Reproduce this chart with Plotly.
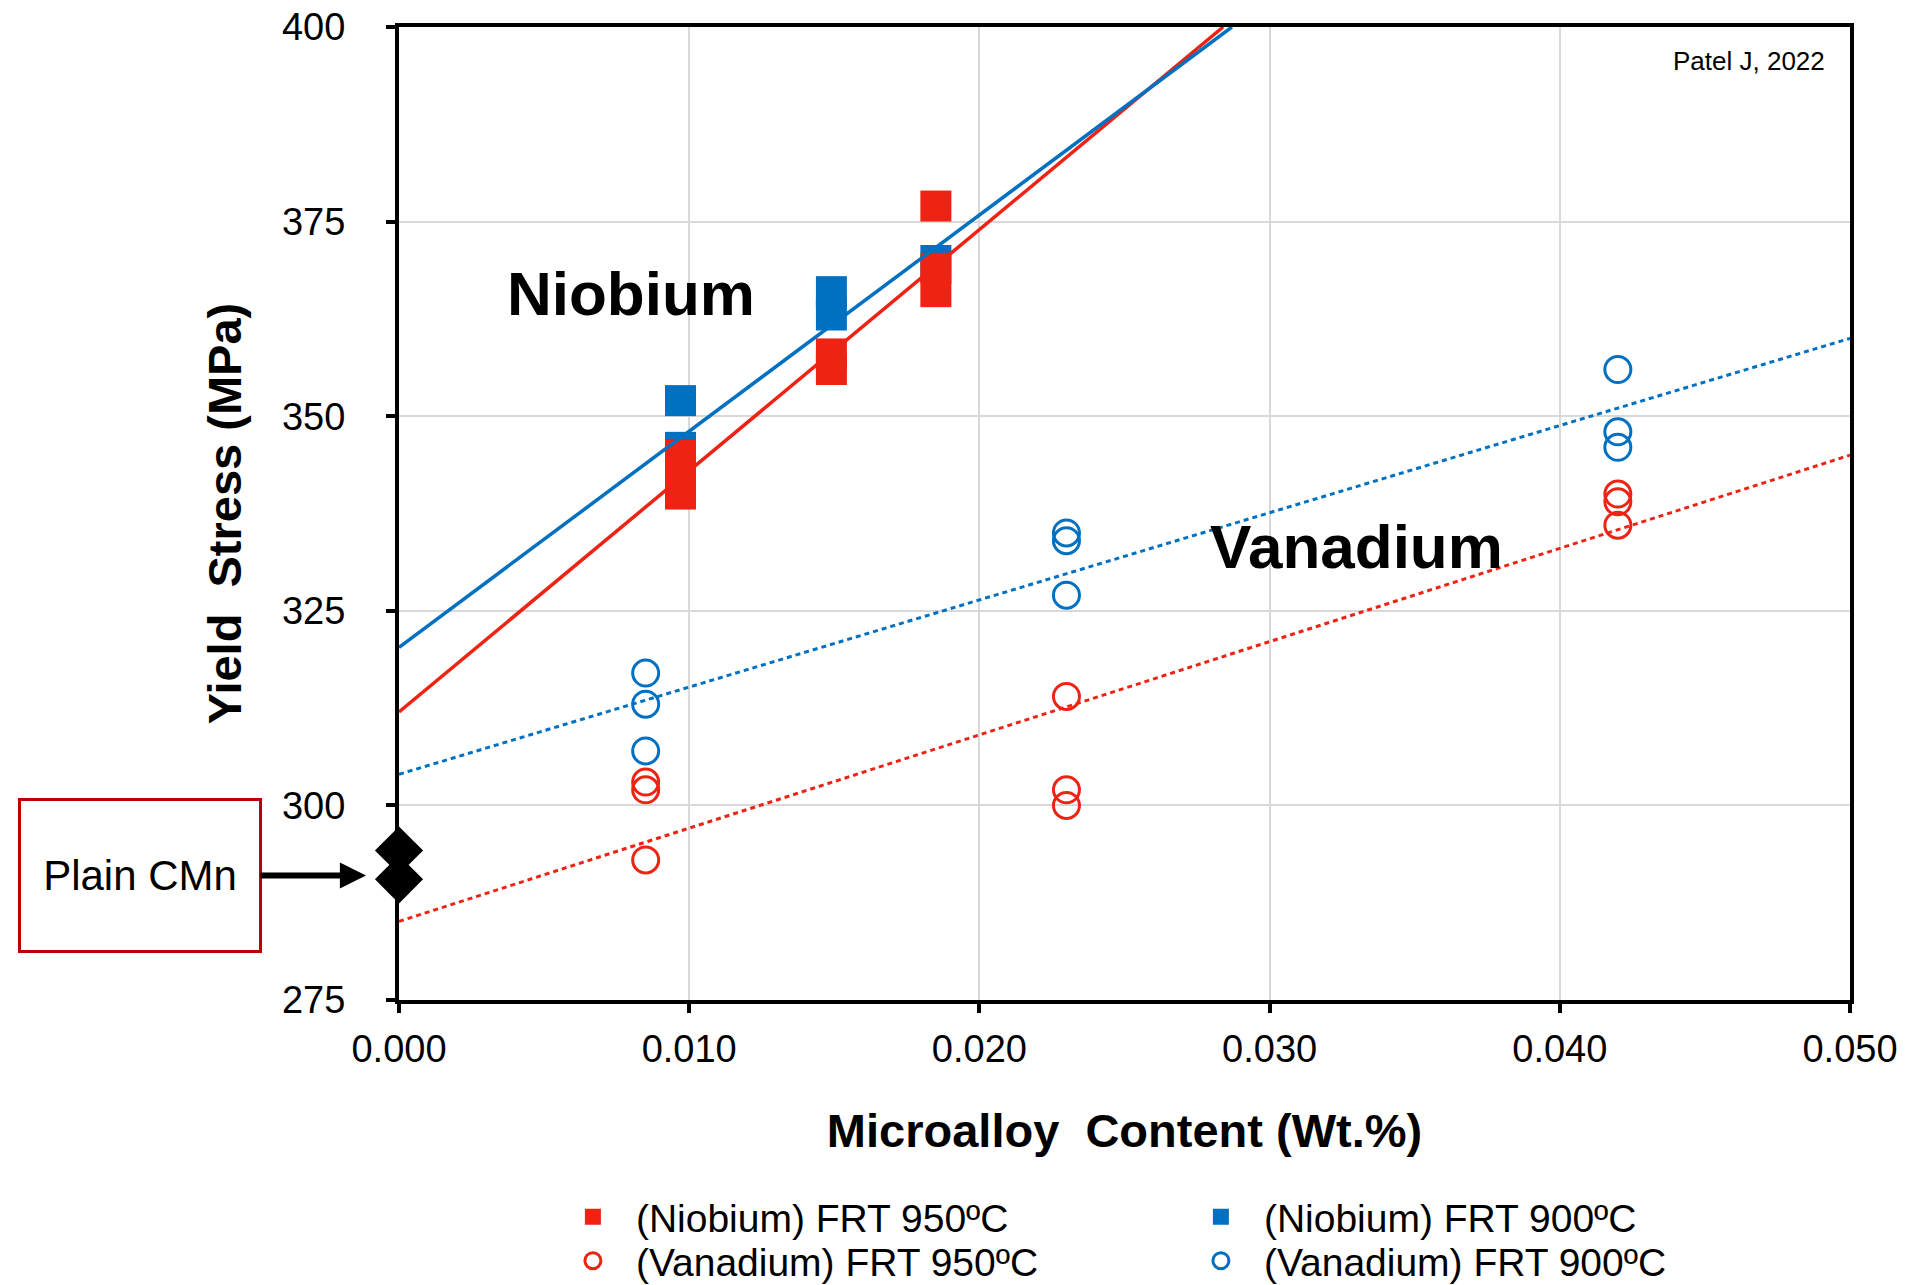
import plotly.graph_objects as go

# Colours
RED = "#EE2314"
BLUE = "#0070C0"
FONT = "Liberation Sans, Arial, Helvetica, sans-serif"

# Niobium steels (yield stress, MPa)
nb_950_x = [0.0097, 0.0097, 0.0097, 0.0149, 0.0149, 0.0185, 0.0185, 0.0185]
nb_950_y = [345, 343, 340, 358, 356, 377, 369, 366]
nb_900_x = [0.0097, 0.0097, 0.0149, 0.0149, 0.0185]
nb_900_y = [352, 346, 366, 363, 370]

# Vanadium steels
v_950_x = [0.0085, 0.0085, 0.0085, 0.023, 0.023, 0.023, 0.042, 0.042, 0.042]
v_950_y = [303, 302, 293, 314, 302, 300, 340, 339, 336]
v_900_x = [0.0085, 0.0085, 0.0085, 0.023, 0.023, 0.023, 0.042, 0.042, 0.042]
v_900_y = [317, 313, 307, 335, 334, 327, 356, 348, 346]

# Plain C-Mn reference steels
cmn_x = [0.0, 0.0]
cmn_y = [294.2, 290.5]

# Linear trend lines (end points)
nb_950_fit_x = [0.0, 0.0284]
nb_950_fit_y = [312.0, 400.0]
nb_900_fit_x = [0.0, 0.0287]
nb_900_fit_y = [320.3, 400.0]
v_950_fit_x = [0.0, 0.05]
v_950_fit_y = [285.1, 345.0]
v_900_fit_x = [0.0, 0.05]
v_900_fit_y = [304.0, 360.0]

# Axis ticks
x_ticks = [0.0, 0.01, 0.02, 0.03, 0.04, 0.05]
x_tick_text = ["0.000", "0.010", "0.020", "0.030", "0.040", "0.050"]
y_ticks = [275, 300, 325, 350, 375, 400]

fig = go.Figure()

# Markers (Niobium entries go in the first legend row, Vanadium in the second)
fig.add_trace(go.Scatter(
    x=nb_900_x, y=nb_900_y, mode="markers", name="(Niobium) FRT 900ºC",
    legend="legend", legendrank=2,
    marker=dict(symbol="square", size=31, color=BLUE, line=dict(width=0)),
))
fig.add_trace(go.Scatter(
    x=nb_950_x, y=nb_950_y, mode="markers", name="(Niobium) FRT 950ºC",
    legend="legend", legendrank=1,
    marker=dict(symbol="square", size=31, color=RED, line=dict(width=0)),
))
fig.add_trace(go.Scatter(
    x=v_950_x, y=v_950_y, mode="markers", name="(Vanadium) FRT 950ºC",
    legend="legend2", legendrank=1,
    marker=dict(symbol="circle-open", size=26, color=RED, line=dict(width=3, color=RED)),
))
fig.add_trace(go.Scatter(
    x=v_900_x, y=v_900_y, mode="markers", name="(Vanadium) FRT 900ºC",
    legend="legend2", legendrank=2,
    marker=dict(symbol="circle-open", size=26, color=BLUE, line=dict(width=3, color=BLUE)),
))
fig.add_trace(go.Scatter(
    x=cmn_x, y=cmn_y, mode="markers", showlegend=False, cliponaxis=False,
    marker=dict(symbol="diamond", size=37, color="black", line=dict(width=0)),
))

# Trend lines
fig.add_trace(go.Scatter(
    x=nb_950_fit_x, y=nb_950_fit_y, mode="lines", showlegend=False,
    line=dict(color=RED, width=3.5),
))
fig.add_trace(go.Scatter(
    x=nb_900_fit_x, y=nb_900_fit_y, mode="lines", showlegend=False,
    line=dict(color=BLUE, width=3.5),
))
fig.add_trace(go.Scatter(
    x=v_950_fit_x, y=v_950_fit_y, mode="lines", showlegend=False,
    line=dict(color=RED, width=3, dash="5px,4px"),
))
fig.add_trace(go.Scatter(
    x=v_900_fit_x, y=v_900_fit_y, mode="lines", showlegend=False,
    line=dict(color=BLUE, width=3, dash="5px,4px"),
))

legend_style = dict(
    orientation="h",
    x=0.104, xanchor="left",
    yanchor="top",
    itemwidth=76,
    entrywidth=537, entrywidthmode="pixels",
    traceorder="normal",
    font=dict(family=FONT, size=39, color="black"),
    bgcolor="rgba(0,0,0,0)",
)

fig.update_layout(
    width=1907,
    height=1285,
    margin=dict(l=399, r=57, t=27, b=285, autoexpand=False),
    paper_bgcolor="white",
    plot_bgcolor="white",
    font=dict(family=FONT, color="black"),
    showlegend=True,
    legend=dict(legend_style, y=-0.19),
    legend2=dict(legend_style, y=-0.2352),
    xaxis=dict(
        range=[0, 0.05],
        tickvals=x_ticks,
        ticktext=x_tick_text,
        showgrid=True, gridcolor="#d9d9d9", gridwidth=1.5,
        zeroline=False,
        showline=True, linecolor="black", linewidth=4, mirror=True,
        ticks="outside", ticklen=9, tickwidth=3.5, tickcolor="black",
        tickfont=dict(family=FONT, size=38, color="black"),
        ticklabelstandoff=3,
        title=dict(
            text="Microalloy\u00a0\u00a0Content (Wt.%)",
            font=dict(family=FONT, size=47, color="black", weight="bold"),
            standoff=47,
        ),
    ),
    yaxis=dict(
        range=[275, 400],
        tickvals=y_ticks,
        showgrid=True, gridcolor="#d9d9d9", gridwidth=2,
        zeroline=False,
        showline=True, linecolor="black", linewidth=4, mirror=True,
        ticks="outside", ticklen=9, tickwidth=3.5, tickcolor="black",
        tickfont=dict(family=FONT, size=38, color="black"),
        ticklabelstandoff=33,
        title=dict(
            text="Yield\u00a0\u00a0Stress (MPa)",
            font=dict(family=FONT, size=47, color="black", weight="bold"),
            standoff=27,
        ),
    ),
    annotations=[
        dict(
            x=0.008, y=365.8, xref="x", yref="y", showarrow=False,
            text="Niobium", xanchor="center", yanchor="middle",
            font=dict(family=FONT, size=62, color="black", weight="bold"),
        ),
        dict(
            x=0.033, y=333.3, xref="x", yref="y", showarrow=False,
            text="Vanadium", xanchor="center", yanchor="middle",
            font=dict(family=FONT, size=62, color="black", weight="bold"),
        ),
        dict(
            x=0.984, y=0.965, xref="paper", yref="paper", showarrow=False,
            text="Patel J, 2022", xanchor="right", yanchor="middle",
            font=dict(family=FONT, size=26, color="black"),
        ),
        dict(
            x=0, y=291.0, xref="x", yref="y",
            text="Plain CMn",
            font=dict(family=FONT, size=42, color="black"),
            showarrow=True, axref="pixel", ayref="pixel", ax=-259, ay=0,
            arrowhead=2, arrowsize=0.87, arrowwidth=6, arrowcolor="black",
            standoff=33,
            bordercolor="#C00000", borderwidth=3, borderpad=0,
            width=238, height=149, bgcolor="white",
        ),
    ],
)

fig.write_html("out.html")
